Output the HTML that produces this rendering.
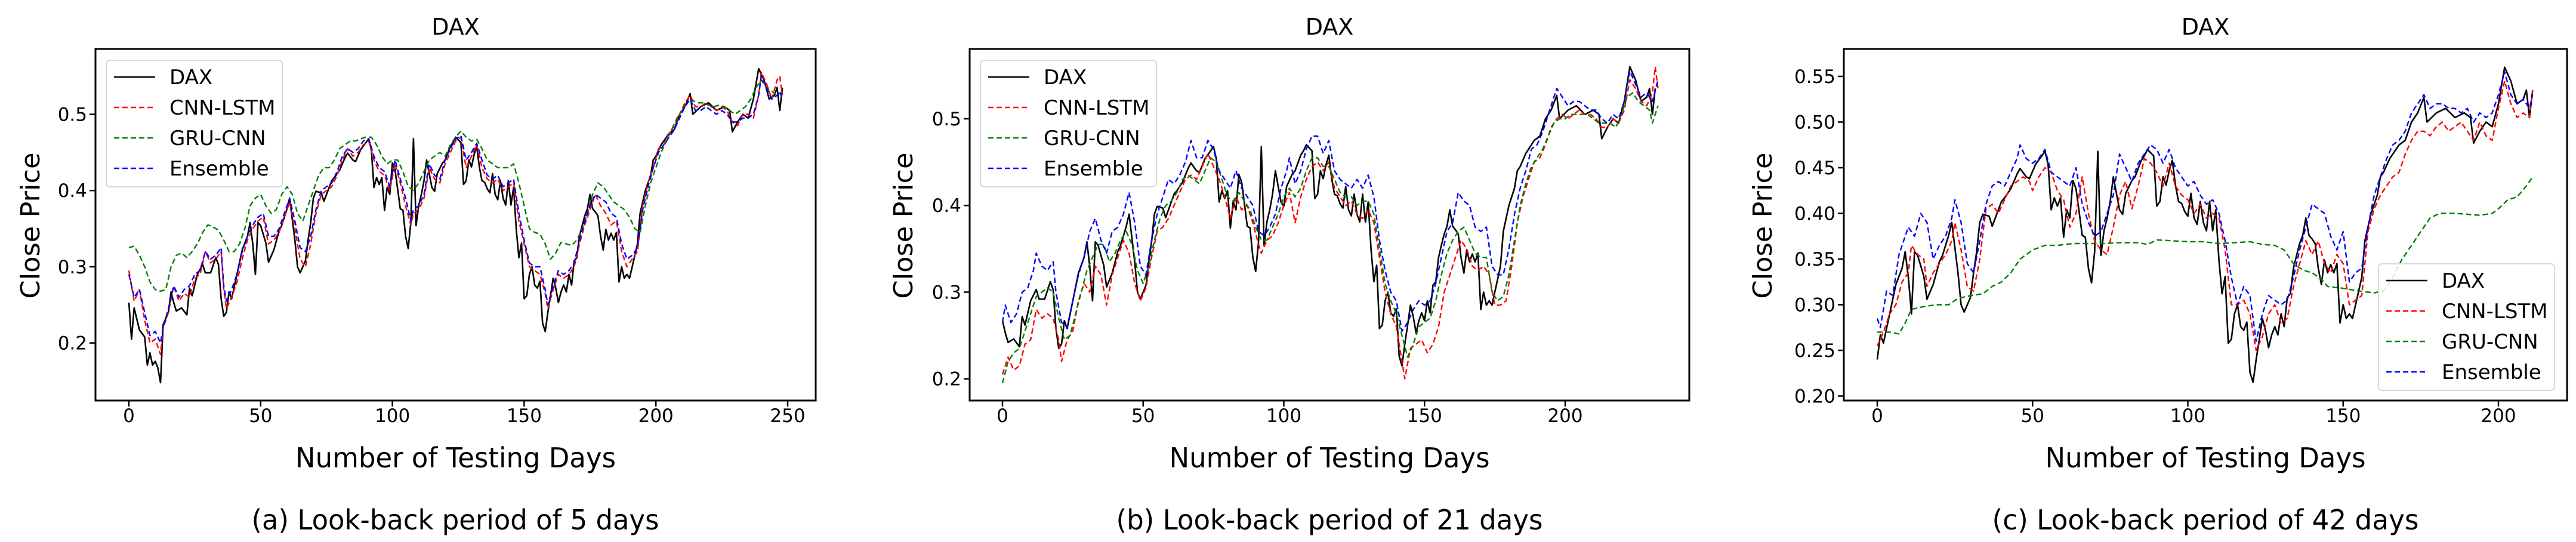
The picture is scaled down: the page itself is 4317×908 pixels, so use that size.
<!DOCTYPE html>
<html><head><meta charset="utf-8"><style>
html,body{margin:0;padding:0;background:#fff;}
svg{display:block;font-family:"DejaVu Sans","Liberation Sans",sans-serif;}
</style></head><body>
<svg id="fig" width="4317" height="908" viewBox="0 0 4317 908" xmlns="http://www.w3.org/2000/svg"></svg>
<script>
// ---- data: DAX actual (panel a day index) ----
const daxDays=[0,1,2,4,6,7,8,9,10,11,12,13,15,16,17,18,20,22,23,24,26,28,29,31,33,34,35,36,37,38,39,41,43,45,46,47,48,49,50,52,53,55,57,58,60,61,63,64,65,67,68,69,70,71,73,74,76,77,78,80,82,83,85,86,88,90,91,92,93,94,95,96,97,98,99,100,101,102,103,104,105,106,107,108,109,110,111,112,113,114,115,116,117,119,120,122,123,124,126,127,128,129,130,131,132,133,134,135,136,137,138,139,140,141,142,143,144,145,146,147,148,149,150,151,152,153,154,155,156,157,158,159,160,161,162,163,164,165,166,167,168,169,170,171,172,173,174,175,176,177,178,179,180,181,182,183,184,185,186,187,188,189,190,191,193,194,196,198,199,200,202,205,207,209,211,213,214,217,220,223,226,228,229,231,233,235,237,239,241,243,245,246,247,248];
const daxVals=[.253,.205,.246,.217,.208,.171,.187,.171,.176,.167,.148,.224,.24,.267,.253,.242,.246,.237,.272,.262,.29,.303,.292,.292,.312,.303,.258,.235,.24,.267,.258,.29,.322,.34,.358,.33,.29,.358,.354,.331,.306,.322,.347,.354,.376,.39,.335,.3,.292,.308,.335,.358,.39,.399,.397,.386,.404,.413,.417,.427,.443,.449,.44,.438,.454,.463,.468,.454,.404,.417,.408,.417,.374,.404,.395,.436,.427,.402,.376,.374,.34,.324,.358,.468,.354,.381,.395,.413,.44,.422,.404,.399,.422,.436,.44,.458,.463,.47,.463,.408,.413,.44,.431,.447,.458,.431,.413,.411,.402,.397,.422,.395,.388,.413,.39,.381,.413,.381,.404,.349,.312,.331,.258,.262,.29,.3,.276,.272,.281,.226,.215,.24,.262,.285,.272,.253,.267,.276,.267,.29,.276,.308,.312,.34,.354,.367,.376,.395,.376,.372,.367,.34,.322,.349,.335,.344,.335,.345,.28,.3,.285,.29,.285,.3,.33,.37,.4,.42,.44,.445,.46,.475,.48,.5,.51,.527,.5,.51,.515,.505,.51,.505,.477,.49,.5,.495,.52,.56,.545,.52,.525,.535,.505,.535];
const offsetB=16, offsetC=37;

// ---- panel a models ----
const aLstmD=[0,2,4,6,8,10,12,13,15,17,19,21,23,25,27,29,31,33,35,36,37,39,41,43,45,47,49,51,53,55,57,59,61,63,65,67,69,71,73,75,77,79,81,83,85,87,89,91,93,95,97,99,101,103,105,107,108,110,112,114,116,118,120,122,124,126,128,130,132,134,136,138,140,142,144,146,148,150,152,154,156,158,159,161,163,165,167,169,171,173,175,177,179,181,183,185,187,189,191,193,195,197,199,201,203,205,207,209,211,213,215,217,219,221,223,225,227,229,231,233,235,237,239,240,242,244,246,247,248];
const aLstmV=[.295,.255,.27,.23,.2,.205,.185,.22,.24,.275,.255,.265,.26,.285,.29,.32,.305,.31,.32,.27,.245,.26,.28,.31,.335,.35,.36,.365,.33,.335,.345,.365,.385,.35,.31,.3,.33,.37,.395,.4,.405,.42,.44,.455,.445,.45,.46,.465,.44,.425,.42,.4,.435,.41,.38,.355,.37,.375,.39,.43,.415,.41,.435,.45,.465,.47,.43,.445,.46,.43,.415,.41,.415,.4,.405,.41,.36,.33,.3,.295,.29,.265,.245,.27,.29,.285,.29,.3,.33,.355,.375,.395,.38,.37,.355,.36,.32,.3,.31,.32,.38,.41,.43,.455,.46,.475,.485,.5,.515,.525,.51,.51,.515,.51,.505,.51,.505,.49,.485,.5,.5,.495,.525,.555,.54,.52,.545,.55,.525];
const aGruD=[0,2,4,6,8,10,12,14,16,18,20,22,24,26,28,30,32,34,36,38,40,42,44,46,48,50,52,54,56,58,60,62,64,66,68,70,72,74,76,78,80,82,84,86,88,90,92,94,96,98,100,102,104,106,108,110,112,114,116,118,120,122,124,126,128,130,132,134,136,138,140,142,144,146,148,150,152,154,156,158,160,162,164,166,168,170,172,174,176,178,180,182,184,186,188,190,192,194,196,198,200,202,204,206,208,210,212,214,216,218,220,222,224,226,228,230,232,234,236,238,240,242,244,246,248];
const aGruV=[.325,.327,.315,.3,.28,.27,.268,.27,.3,.315,.318,.312,.32,.33,.345,.355,.352,.348,.335,.32,.32,.33,.35,.38,.39,.395,.38,.37,.375,.395,.405,.395,.37,.36,.38,.4,.42,.43,.43,.44,.455,.46,.465,.465,.468,.47,.47,.46,.445,.435,.44,.44,.425,.405,.4,.41,.425,.44,.445,.45,.445,.46,.47,.478,.47,.465,.467,.455,.44,.435,.43,.43,.43,.435,.41,.38,.35,.345,.343,.33,.31,.318,.332,.33,.328,.335,.35,.37,.395,.41,.405,.395,.385,.38,.375,.365,.35,.345,.38,.41,.43,.45,.465,.48,.495,.505,.515,.518,.515,.515,.512,.51,.512,.51,.505,.5,.505,.51,.52,.535,.545,.535,.53,.525,.53];
const aEnsD=aLstmD;
const aEnsV=[.29,.26,.27,.24,.21,.215,.2,.22,.245,.275,.26,.27,.275,.29,.295,.32,.31,.315,.325,.275,.255,.27,.29,.32,.34,.355,.365,.37,.34,.34,.35,.37,.39,.36,.325,.32,.34,.375,.4,.405,.41,.425,.445,.455,.45,.455,.465,.468,.445,.43,.425,.405,.44,.415,.39,.36,.375,.38,.395,.435,.42,.415,.44,.455,.468,.472,.44,.45,.462,.44,.42,.415,.42,.405,.41,.415,.37,.335,.305,.3,.3,.27,.25,.275,.295,.29,.295,.305,.335,.36,.38,.395,.39,.385,.37,.365,.33,.31,.315,.325,.375,.405,.43,.45,.46,.47,.48,.495,.51,.52,.505,.505,.51,.505,.5,.505,.5,.49,.49,.495,.495,.5,.525,.55,.535,.52,.525,.53,.52];

// ---- panel b models ----
const bLstmD=[0,2,4,6,8,10,12,14,16,18,20,21,23,25,27,29,31,33,35,37,39,41,43,45,47,49,51,53,55,57,59,61,63,65,67,69,71,73,75,77,79,81,83,85,87,89,91,92,94,96,98,100,102,104,106,108,110,112,114,116,118,120,122,124,126,128,130,132,134,136,138,140,142,143,145,147,149,151,153,155,157,159,161,163,165,167,169,171,173,175,177,179,181,183,185,187,189,191,193,195,197,199,201,203,205,207,209,211,213,215,217,219,221,223,225,227,229,231,232,233];
const bLstmV=[.205,.225,.21,.215,.24,.245,.28,.27,.275,.27,.245,.22,.245,.255,.29,.31,.3,.33,.32,.285,.32,.34,.36,.345,.31,.29,.305,.34,.37,.375,.385,.4,.415,.43,.435,.43,.445,.46,.445,.43,.41,.385,.41,.395,.4,.38,.355,.345,.36,.365,.38,.4,.415,.38,.41,.43,.445,.45,.44,.45,.42,.41,.4,.405,.39,.385,.395,.38,.34,.3,.275,.26,.22,.2,.235,.24,.245,.23,.24,.26,.3,.32,.34,.36,.35,.33,.325,.33,.32,.285,.285,.29,.33,.38,.41,.43,.45,.455,.47,.49,.5,.505,.5,.505,.51,.505,.505,.5,.49,.49,.5,.495,.51,.545,.535,.52,.515,.53,.56,.535];
const bGruD=[0,2,4,6,8,10,12,14,16,18,20,22,24,26,28,30,32,34,36,38,40,42,44,46,48,50,52,54,56,58,60,62,64,66,68,70,72,74,76,78,80,82,84,86,88,90,92,94,96,98,100,102,104,106,108,110,112,114,116,118,120,122,124,126,128,130,132,134,136,138,140,142,144,146,148,150,152,154,156,158,160,162,164,166,168,170,172,174,176,178,180,182,184,186,188,190,192,194,196,198,200,202,204,206,208,210,212,214,216,218,220,222,224,226,228,230,231,233];
const bGruV=[.195,.22,.23,.235,.255,.275,.295,.3,.305,.3,.27,.245,.25,.275,.3,.325,.34,.355,.355,.335,.345,.36,.37,.355,.325,.31,.33,.36,.385,.4,.405,.415,.43,.435,.43,.425,.44,.455,.45,.43,.41,.405,.415,.405,.395,.375,.36,.36,.375,.39,.41,.42,.41,.42,.44,.455,.455,.445,.445,.43,.415,.41,.41,.4,.405,.405,.39,.35,.31,.29,.275,.25,.225,.24,.26,.265,.27,.29,.32,.345,.36,.37,.375,.36,.345,.34,.34,.3,.29,.295,.32,.36,.4,.425,.445,.455,.465,.48,.495,.5,.5,.505,.505,.505,.505,.5,.495,.495,.495,.49,.505,.525,.53,.52,.515,.51,.495,.515];
const bEnsD=[0,1,3,5,7,9,11,12,14,16,18,19,21,23,25,27,29,31,33,35,37,39,41,43,45,47,49,51,53,55,57,59,61,63,65,67,69,71,73,75,77,79,81,83,85,87,89,91,93,95,97,99,101,102,104,106,108,110,112,114,116,118,120,122,124,126,128,130,132,134,136,138,140,142,144,146,148,150,152,154,156,158,160,162,164,166,168,170,172,174,176,178,180,182,184,186,188,190,192,194,196,197,199,201,203,205,207,209,211,213,215,217,219,221,223,225,227,229,231,233];
const bEnsV=[.265,.285,.265,.275,.3,.305,.325,.345,.33,.325,.335,.3,.265,.26,.29,.32,.34,.37,.385,.36,.345,.37,.375,.39,.415,.38,.33,.32,.36,.39,.41,.43,.425,.435,.45,.475,.455,.455,.475,.465,.44,.43,.42,.44,.42,.41,.4,.37,.365,.375,.39,.42,.44,.455,.425,.44,.465,.48,.48,.46,.475,.44,.43,.425,.42,.43,.42,.435,.41,.36,.325,.3,.29,.255,.265,.28,.29,.285,.29,.31,.34,.37,.38,.415,.405,.4,.375,.37,.375,.33,.32,.32,.35,.39,.42,.44,.465,.47,.485,.505,.525,.535,.525,.515,.52,.52,.515,.51,.51,.5,.495,.505,.5,.52,.555,.54,.525,.53,.52,.545];

// ---- panel c models ----
const cGruD=[0,4,7,9,11,15,19,23,26,30,34,37,40,43,46,50,54,58,63,68,73,78,84,87,90,95,100,105,110,115,120,124,128,131,134,137,140,143,145,150,155,160,163,166,169,172,175,178,181,186,190,194,198,200,203,206,209,211];
const cGruV=[.27,.27,.268,.28,.295,.298,.3,.3,.307,.31,.312,.32,.325,.335,.35,.36,.365,.365,.367,.367,.367,.368,.368,.366,.371,.37,.369,.369,.367,.368,.369,.366,.365,.36,.345,.338,.335,.328,.32,.318,.315,.313,.315,.33,.35,.365,.38,.395,.4,.4,.399,.398,.4,.405,.415,.418,.43,.44];
const cLstmD=[0,2,4,6,8,10,11,13,15,16,18,20,22,24,25,27,29,31,33,35,37,39,41,43,45,47,49,50,52,54,56,58,60,62,64,66,68,70,72,74,76,78,80,82,84,86,88,90,92,94,96,98,100,102,104,106,108,110,112,114,116,118,120,122,124,126,128,130,132,134,136,138,140,142,144,146,148,150,152,154,156,158,160,162,164,166,168,170,172,174,176,178,180,182,184,186,188,190,192,194,196,198,200,202,204,206,208,210,211];
const cLstmV=[.255,.27,.29,.3,.325,.335,.365,.355,.35,.32,.335,.345,.355,.37,.39,.36,.32,.315,.35,.405,.41,.4,.415,.43,.435,.44,.435,.425,.44,.45,.445,.425,.415,.385,.4,.44,.4,.37,.36,.355,.385,.42,.435,.405,.43,.46,.455,.445,.43,.455,.43,.42,.415,.4,.41,.395,.4,.395,.36,.3,.3,.305,.29,.25,.265,.29,.3,.28,.285,.32,.345,.37,.355,.37,.345,.335,.355,.345,.3,.305,.31,.38,.405,.42,.43,.44,.445,.465,.48,.49,.49,.485,.495,.5,.49,.495,.5,.49,.48,.5,.485,.48,.515,.545,.52,.505,.51,.505,.535];
const cEnsD=[0,1,3,5,7,9,10,12,14,16,18,20,22,24,25,27,29,31,33,35,37,39,41,43,45,46,48,50,52,54,56,58,60,62,64,66,68,70,72,74,76,78,80,82,84,86,88,90,92,94,96,98,100,102,104,106,108,110,112,114,116,118,120,122,124,126,128,130,132,134,136,138,140,142,144,146,148,150,152,154,156,158,160,162,164,166,168,170,172,174,176,178,180,182,184,186,188,190,192,194,196,198,200,202,204,206,208,210,211];
const cEnsV=[.285,.275,.315,.31,.355,.375,.385,.375,.4,.39,.35,.365,.375,.395,.415,.39,.345,.335,.37,.41,.43,.435,.43,.445,.46,.475,.46,.455,.46,.47,.445,.44,.435,.43,.45,.41,.39,.375,.38,.4,.42,.465,.45,.435,.455,.465,.475,.47,.455,.47,.45,.44,.43,.435,.42,.41,.415,.4,.37,.33,.3,.32,.31,.26,.29,.31,.305,.3,.305,.33,.36,.385,.41,.405,.4,.375,.36,.38,.325,.335,.34,.385,.42,.44,.46,.475,.48,.49,.51,.52,.53,.515,.52,.52,.515,.515,.51,.515,.5,.51,.505,.51,.53,.555,.53,.52,.525,.515,.53];

// ---- ticks ----
const aXTicks=[0,50,100,150,200,250], aYTicks=[0.2,0.3,0.4,0.5];
const bXTicks=[0,50,100,150,200], bYTicks=[0.2,0.3,0.4,0.5];
const cXTicks=[0,50,100,150,200], cYTicks=[0.20,0.25,0.30,0.35,0.40,0.45,0.50,0.55];

const NS='http://www.w3.org/2000/svg';
const svg=document.getElementById('fig');
function mk(tag,attrs,parent){const e=document.createElementNS(NS,tag);for(const k in attrs)e.setAttribute(k,attrs[k]);(parent||svg).appendChild(e);return e;}

const daxB={d:[],v:[]},daxC={d:[],v:[]};
daxDays.forEach((d,i)=>{if(d>=offsetB){daxB.d.push(d-offsetB);daxB.v.push(daxVals[i]);} if(d>=offsetC){daxC.d.push(d-offsetC);daxC.v.push(daxVals[i]);}});

const panels=[
 {id:'a',box:[160,82,1367,671],x0:216,xs:4.416,yRef:0.5,yRefPx:191.5,ys:1277,xt:aXTicks,yt:aYTicks,dec:1,ylab:51,title:'DAX',cap:'(a) Look-back period of 5 days',cx:763,
  series:[[daxDays,daxVals],[aLstmD,aLstmV],[aGruD,aGruV],[aEnsD,aEnsV]],leg:[178,101]},
 {id:'b',box:[1625,82,2831,671],x0:1680,xs:4.715,yRef:0.5,yRefPx:199,ys:1452,xt:bXTicks,yt:bYTicks,dec:1,ylab:1514,title:'DAX',cap:'(b) Look-back period of 21 days',cx:2228,
  series:[[daxB.d,daxB.v],[bLstmD,bLstmV],[bGruD,bGruV],[bEnsD,bEnsV]],leg:[1643,101]},
 {id:'c',box:[3090,82,4302,671],x0:3146,xs:5.205,yRef:0.55,yRefPx:128,ys:1530,xt:cXTicks,yt:cYTicks,dec:2,ylab:2954,title:'DAX',cap:'(c) Look-back period of 42 days',cx:3696,
  series:[[daxC.d,daxC.v],[cLstmD,cLstmV],[cGruD,cGruV],[cEnsD,cEnsV]],leg:[3986,442]}
];
const names=['DAX','CNN-LSTM','GRU-CNN','Ensemble'];
const colors=['#000','#ff0000','#008000','#0000ff'];
const slug=['dax','cnn-lstm','gru-cnn','ensemble'];

panels.forEach(p=>{
 const X=d=>p.x0+d*p.xs, Y=v=>p.yRefPx+(p.yRef-v)*p.ys;
 const [l,t,r,b]=p.box, cxp=(l+r)/2;
 const g=mk('g',{});
 
 
 const tt=mk('text',{x:cxp,y:58,'text-anchor':'middle','font-size':38},g);tt.textContent=p.title;
 
 
 // series
 p.series.forEach((s,k)=>{
  const pts=s[0].map((d,i)=>X(d).toFixed(1)+','+Y(s[1][i]).toFixed(1)).join(' ');
  const pl=mk('polyline',{points:pts,fill:'none',stroke:colors[k],'stroke-width':k==0?2.6:2.4,'stroke-dasharray':k==0?'none':'9,5','stroke-linejoin':'round'},g);
  
  
 });
 const fr=mk('rect',{x:l,y:t,width:r-l,height:b-t,fill:'none',stroke:'#000','stroke-width':3},g);
 
 
 p.xt.forEach(v=>{const x=X(v);mk('line',{x1:x,y1:b,x2:x,y2:b+10,stroke:'#000','stroke-width':2.5},g);
  const tx=mk('text',{x:x,y:707,'text-anchor':'middle','font-size':31},g);tx.textContent=v;
  
  });
 p.yt.forEach(v=>{const y=Y(v);mk('line',{x1:l,y1:y,x2:l-10,y2:y,stroke:'#000','stroke-width':2.5},g);
  const ty=mk('text',{x:l-14,y:y+11,'text-anchor':'end','font-size':31},g);ty.textContent=v.toFixed(p.dec);
  
  });
 const xl=mk('text',{x:cxp,y:783,'text-anchor':'middle','font-size':46,textLength:537,lengthAdjust:'spacingAndGlyphs'},g);xl.textContent='Number of Testing Days';
 
 
 const yl=mk('text',{x:0,y:0,'text-anchor':'middle','font-size':44,textLength:245,lengthAdjust:'spacingAndGlyphs',transform:`translate(${p.ylab+15},378) rotate(-90)`},g);yl.textContent='Close Price';
 
 
 const cp=mk('text',{x:p.cx,y:887,'text-anchor':'middle','font-size':46,textLength:p.id=='a'?683:(p.id=='b'?715:715),lengthAdjust:'spacingAndGlyphs'},g);cp.textContent=p.cap;
 
 
 // legend
 const [lx,ly]=p.leg;
 const lg=mk('g',{},g);
 
 
 mk('rect',{x:lx,y:ly,width:295,height:212,rx:6,fill:'#fff','fill-opacity':0.85,stroke:'#d9d9d9','stroke-width':2},lg);
 names.forEach((n,k)=>{const y=ly+28+k*51;
  const e=mk('g',{},lg);
  
  
  mk('line',{x1:lx+13,y1:y,x2:lx+82,y2:y,stroke:colors[k],'stroke-width':2.6,'stroke-dasharray':k==0?'none':'9,5'},e);
  const tx=mk('text',{x:lx+106,y:y+12,'font-size':34},e);tx.textContent=n;});
});
</script>
</body></html>
